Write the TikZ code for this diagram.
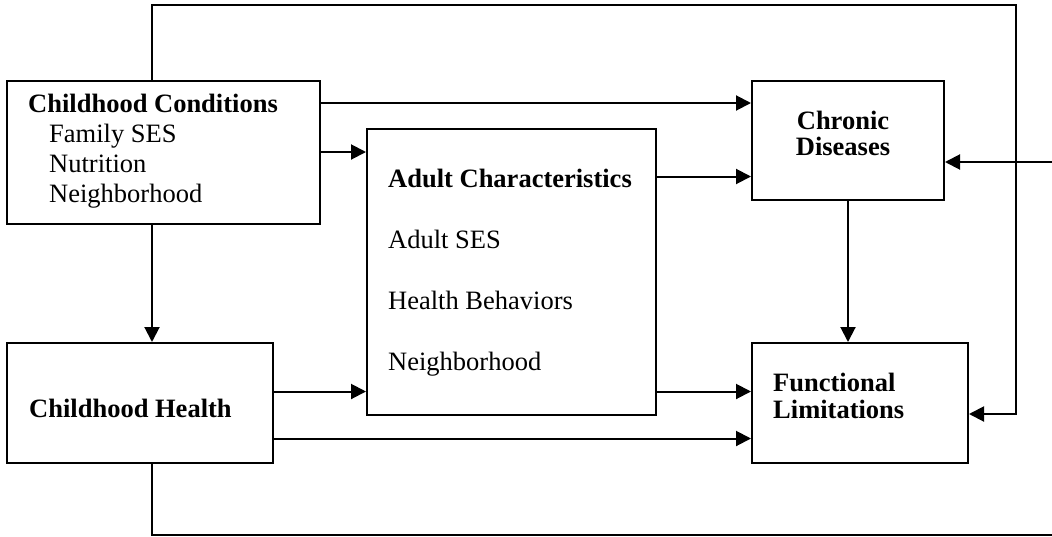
\documentclass[tikz,border=0pt]{standalone}
\usepackage{fontspec}
\setmainfont{Liberation Serif}
\usetikzlibrary{arrows.meta}
\begin{document}
\begin{tikzpicture}[x=1pt,y=-1pt,
  box/.style={draw, line width=2pt, inner sep=0pt},
  txt/.style={inner sep=0pt, anchor=base west, font=\fontsize{26.5}{30}\selectfont},
  ctxt/.style={inner sep=0pt, anchor=base, font=\fontsize{26.5}{30}\selectfont\bfseries},
  conn/.style={line width=2pt, -{Triangle[length=15pt,width=15pt]}},
  plain/.style={line width=2pt}]
\useasboundingbox (0,0) rectangle (1052,536);
% boxes
\node[box, minimum width=313pt, minimum height=143pt] (cc) at (163.5,152.5) {};
\node[box, minimum width=289pt, minimum height=286pt] (ac) at (511.5,272) {};
\node[box, minimum width=192pt, minimum height=119pt] (cd) at (848,140.5) {};
\node[box, minimum width=266pt, minimum height=120pt] (ch) at (140,403) {};
\node[box, minimum width=216pt, minimum height=120pt] (fl) at (860,403) {};
% texts
\node[txt] (cc1) at (28,112) {\textbf{Childhood Conditions}};
\node[txt] (cc2) at (49,142.5) {Family SES};
\node[txt] (cc3) at (49,172.5) {Nutrition};
\node[txt] (cc4) at (49,202) {Neighborhood};
\node[txt] (ac1) at (388,187) {\textbf{Adult Characteristics}};
\node[txt] (ac2) at (388,248) {Adult SES};
\node[txt] (ac3) at (388,309) {Health Behaviors};
\node[txt] (ac4) at (388,370) {Neighborhood};
\node[ctxt] (cd1) at (843,129) {Chronic};
\node[ctxt] (cd2) at (843,155) {Diseases};
\node[txt] (fl1) at (773,391) {\textbf{Functional}};
\node[txt] (fl2) at (773,418.5) {\textbf{Limitations}};
\node[txt] (ch1) at (29,417) {\textbf{Childhood Health}};
% helper coordinates
\coordinate (xl) at (152,0);
\coordinate (y103) at (0,103);
\coordinate (y152) at (0,152);
\coordinate (y177) at (0,176.5);
\coordinate (y391) at (0,391.5);
\coordinate (y438) at (0,438.5);
\coordinate (y414) at (0,414);
\coordinate (top) at (1016,5);
\coordinate (bot) at (1052,535);
\coordinate (rin) at (1052,162);
% connectors
\draw[conn] (cc.east |- y103) -- (cd.west |- y103);
\draw[conn] (cc.east |- y152) -- (ac.west |- y152);
\draw[conn] (ac.east |- y177) -- (cd.west |- y177);
\draw[conn] (cc.south -| xl) -- (ch.north -| xl);
\draw[conn] (ch.east |- y391) -- (ac.west |- y391);
\draw[conn] (ac.east |- y391) -- (fl.west |- y391);
\draw[conn] (ch.east |- y438) -- (fl.west |- y438);
\draw[conn] (cd.south) -- (fl.north -| cd.south);
\draw[conn] (cc.north -| xl) -- (xl |- top) -- (top) -- (top |- y414) -- (fl.east |- y414);
\draw[plain] (ch.south -| xl) -- (xl |- bot) -- (bot);
\draw[conn] (rin) -- (cd.east |- rin);
\end{tikzpicture}
\end{document}
